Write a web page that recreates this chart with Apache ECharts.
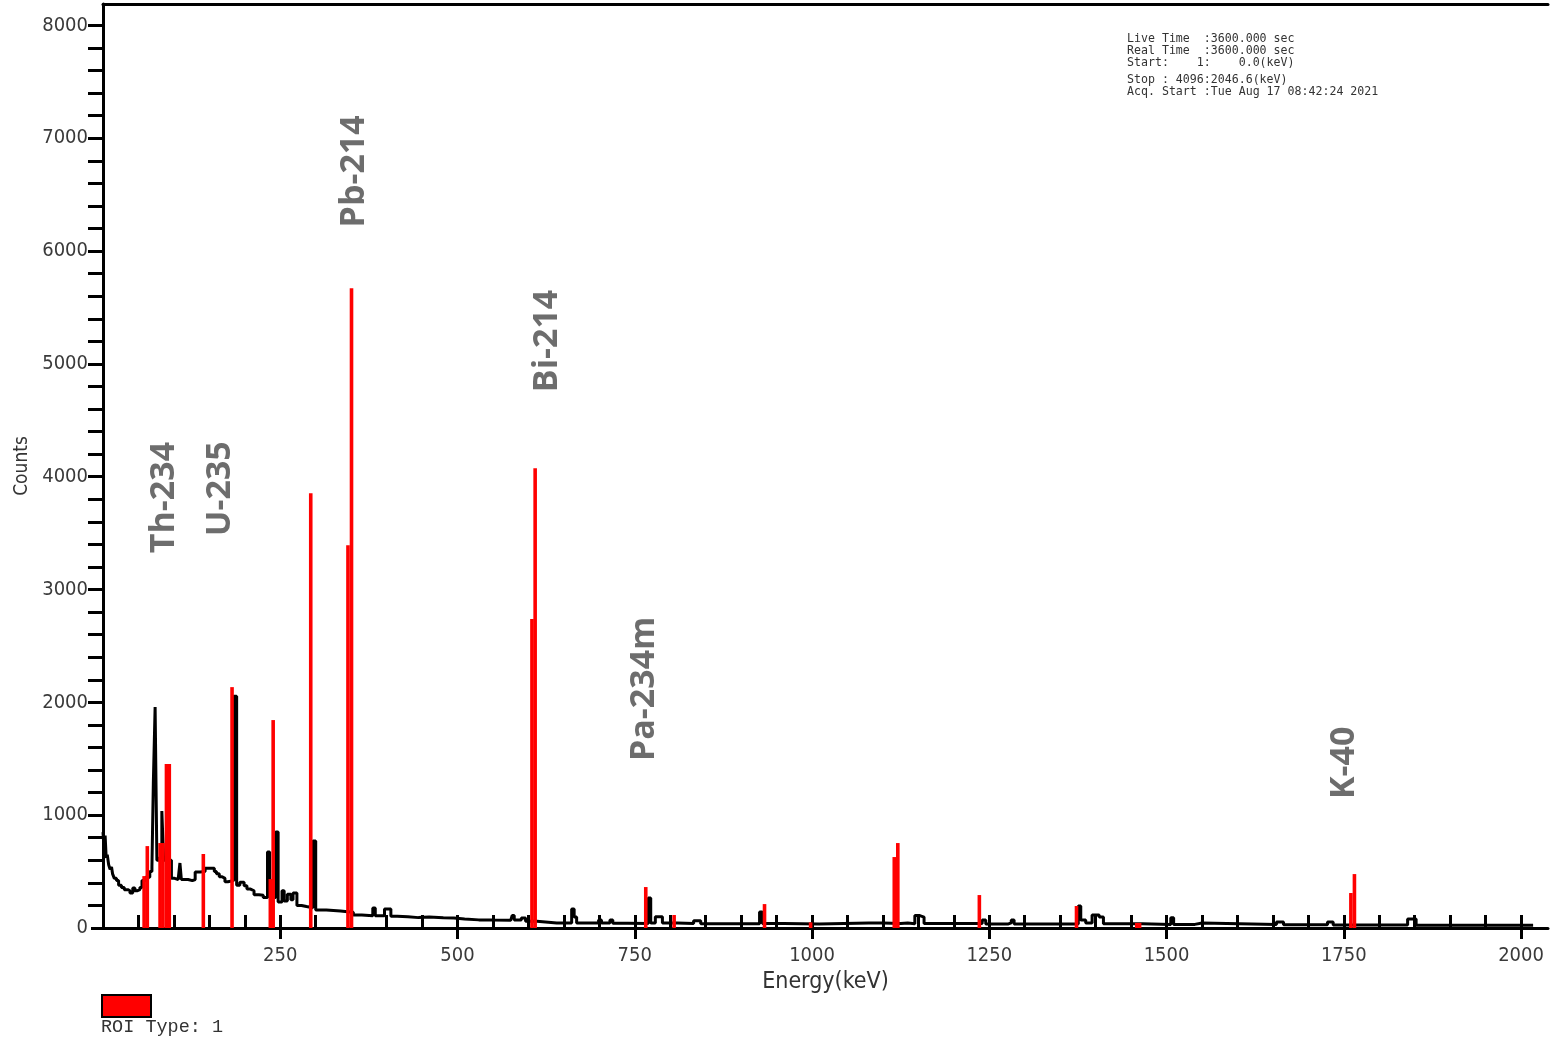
<!DOCTYPE html>
<html>
<head>
<meta charset="utf-8">
<script src="https://cdn.jsdelivr.net/npm/echarts@6/dist/echarts.min.js"></script>
<style>
  html, body { margin: 0; padding: 0; background: #fff; }
  #chart { width: 1550px; height: 1038px; }
</style>
</head>
<body>
<div id="chart"></div>
<script>
// gamma spectrum, energy in keV, counts per channel group
const energyMax = 2038
const countsMax = 8190

const xLabelTicks = [250, 500, 750, 1000, 1250, 1500, 1750, 2000]
const yLabelTicks = [0, 1000, 2000, 3000, 4000, 5000, 6000, 7000, 8000]
const xMinorStep = 50
const yMinorStep = 200

// black trace: [keV, counts], drawn as a step line
const trace = [
    [0, 850], [1.5, 700], [3, 820], [4.5, 620], [6, 650], [8, 560], [10, 520], [12, 540],
    [13.5, 480], [16, 440], [19, 420], [22, 380], [26, 360], [30, 340], [35, 330], [38, 310],
    [42, 355], [45, 330], [48, 340], [52, 360], [55, 420], [60, 450], [66, 500], [69, 540],
    [71, 1285], [73.5, 1958], [76, 600], [79, 620], [83, 1036], [85.5, 600], [90, 600],
    [96.5, 440], [101, 430], [106, 420], [108.5, 576], [110.5, 430], [114, 430], [120, 420],
    [126, 430], [130, 496], [137, 500], [144, 530], [150, 530], [157, 500], [160, 480],
    [164, 455], [168, 440], [172, 410], [176, 400], [178, 420], [184.3, 2055], [188.5, 380],
    [193, 405], [199, 375], [203, 345], [208, 330], [213, 295], [220, 290], [226, 270],
    [232, 673], [235, 270], [243.5, 850], [247, 230], [252.5, 330], [255.5, 240], [260, 300],
    [265, 250], [268, 310], [273.5, 200], [280, 190], [287, 180], [296, 771], [300, 160],
    [315, 155], [325, 150], [335, 145], [345, 140], [353, 115], [365, 108], [380.5, 177],
    [384, 108], [397, 168], [406, 105], [415, 100], [430, 92], [445, 98], [460, 90], [480, 88],
    [495, 80], [510, 72], [530, 70], [550, 68], [575, 72], [577, 110], [580, 70], [590, 88],
    [596, 60], [612, 45], [640, 44], [661, 168], [664.5, 97], [668, 45], [699, 71], [703, 45],
    [715, 71], [719, 42], [740, 40], [769, 266], [772.5, 45], [779, 100], [789, 45], [810, 40],
    [833, 65], [843, 38], [880, 38], [926, 142], [930, 40], [960, 36], [1010, 44], [1080, 44],
    [1100, 40], [1125, 44], [1135, 38], [1145, 110], [1152, 97], [1158, 40], [1230, 40],
    [1240, 71], [1245, 36], [1277, 45], [1281, 71], [1285, 36], [1370, 36], [1375.5, 195],
    [1379, 71], [1386, 44], [1395, 115], [1405, 97], [1411, 38], [1450, 38], [1466, 32],
    [1506, 90], [1510, 32], [1540, 44], [1550, 30], [1655, 53], [1665, 28], [1727, 53],
    [1735, 26], [1840, 80], [1852, 24], [2017, 22]
]

// ROI channels (red)
const roi = [
    [58, 460], [62.5, 726], [80.5, 753], [84.5, 753], [89.5, 1453], [93.5, 1453], [141.5, 656],
    [182, 2135], [236, 434], [240, 1843], [293, 3854], [345.5, 3393], [350.5, 5670],
    [605, 2738], [609.5, 4075], [765.5, 363], [805.5, 115], [933, 212], [998, 50],
    [1116, 629], [1121, 753], [1236, 292], [1373, 195], [1458, 45], [1462, 45],
    [1760, 310], [1765, 478]
]

// nuclide names, anchored at [keV, counts] (bottom of the rotated text)
const nuclides = ['Th-234', 'U-235', 'Pb-214', 'Bi-214', 'Pa-234m', 'K-40']
const nuclidePos = [[87, 3322], [166, 3473], [354, 6210], [626, 4749], [764, 1480], [1751, 1143]]

const infoLines = [
    'Live Time  :3600.000 sec',
    'Real Time  :3600.000 sec',
    'Start:    1:    0.0(keV)',
    'Stop : 4096:2046.6(keV)',
    'Acq. Start :Tue Aug 17 08:42:24 2021'
]
const infoTops = [33, 45, 57, 74, 86]

const axisFont = 'DejaVu Sans Condensed'

let range = (step, max) => {
    const out = []
    for (let v = 0; v <= max; v += step) out.push(v)
    return out
}

let myCharts = null

let initData = () => {
    myCharts = echarts.init(document.getElementById('chart'))
    const option = {
        animation: false,
        grid: {
            left: 103,
            right: 2,
            top: 4,
            bottom: 110
        },
        xAxis: [{
            // major ticks (outside) and labels
            type: 'value',
            min: 0,
            max: energyMax,
            position: 'bottom',
            name: 'Energy(keV)',
            nameLocation: 'middle',
            nameGap: 37,
            nameTextStyle: {
                fontFamily: axisFont,
                fontSize: 23,
                color: '#333'
            },
            axisLine: {
                show: true,
                lineStyle: { color: '#000', width: 3 }
            },
            axisTick: {
                show: true,
                length: 11,
                customValues: xLabelTicks,
                lineStyle: { color: '#000', width: 3 }
            },
            axisLabel: {
                customValues: xLabelTicks,
                formatter: v => String(v),
                fontFamily: axisFont,
                fontSize: 20,
                color: '#3a3a3a',
                margin: 18
            },
            splitLine: { show: false }
        }, {
            // minor ticks pointing into the plot
            type: 'value',
            min: 0,
            max: energyMax,
            position: 'bottom',
            axisLine: { show: false },
            axisTick: {
                show: true,
                inside: true,
                length: 13,
                customValues: range(xMinorStep, 2000).filter(v => v > 0),
                lineStyle: { color: '#000', width: 3 }
            },
            axisLabel: { show: false },
            splitLine: { show: false }
        }, {
            // top frame line
            type: 'value',
            min: 0,
            max: energyMax,
            position: 'top',
            axisLine: {
                show: true,
                lineStyle: { color: '#000', width: 3 }
            },
            axisTick: { show: false },
            axisLabel: { show: false },
            splitLine: { show: false }
        }],
        yAxis: [{
            type: 'value',
            min: 0,
            max: countsMax,
            name: 'Counts',
            nameLocation: 'middle',
            nameGap: 68,
            nameTextStyle: {
                fontFamily: axisFont,
                fontSize: 19,
                color: '#333'
            },
            axisLine: {
                show: true,
                lineStyle: { color: '#000', width: 3 }
            },
            axisTick: {
                show: true,
                length: 12,
                customValues: yLabelTicks,
                lineStyle: { color: '#000', width: 3 }
            },
            axisLabel: {
                customValues: yLabelTicks,
                formatter: v => String(v),
                fontFamily: axisFont,
                fontSize: 20,
                color: '#3a3a3a',
                margin: 15
            },
            splitLine: { show: false }
        }, {
            type: 'value',
            min: 0,
            max: countsMax,
            axisLine: { show: false },
            axisTick: {
                show: true,
                inside: true,
                length: 15,
                customValues: range(yMinorStep, 8000).filter(v => v > 0),
                lineStyle: { color: '#000', width: 3 }
            },
            axisLabel: { show: false },
            splitLine: { show: false }
        }],
        series: [{
            name: 'Spectrum',
            type: 'line',
            step: 'end',
            data: trace,
            symbol: 'none',
            z: 2,
            lineStyle: {
                color: '#000',
                width: 3
            }
        }, {
            name: 'ROI',
            type: 'bar',
            data: roi,
            barWidth: 3.6,
            z: 3,
            itemStyle: {
                color: '#ff0000'
            }
        }, {
            name: 'Nuclides',
            type: 'scatter',
            symbolSize: 0,
            z: 5,
            data: nuclides.map((n, i) => ({ name: n, value: nuclidePos[i] })),
            label: {
                show: true,
                position: 'inside',
                rotate: 90,
                align: 'left',
                verticalAlign: 'middle',
                formatter: p => p.name,
                fontFamily: 'Open Sans',
                fontWeight: 'bold',
                fontSize: 34,
                color: '#484848'
            }
        }],
        graphic: [
            ...infoLines.map((t, i) => ({
                type: 'text',
                left: 1127,
                top: infoTops[i],
                style: {
                    text: t,
                    font: '11.6px "DejaVu Sans Mono"',
                    fill: '#333'
                }
            })),
            {
                // ROI legend swatch
                type: 'rect',
                left: 101,
                top: 994,
                shape: { width: 49, height: 22 },
                style: {
                    fill: '#ff0000',
                    stroke: '#000',
                    lineWidth: 2
                }
            },
            {
                type: 'text',
                left: 101,
                top: 1018,
                style: {
                    text: 'ROI Type: 1',
                    font: '18.5px "Liberation Mono"',
                    fill: '#333'
                }
            }
        ]
    }
    myCharts.setOption(option)
}

initData()
</script>
</body>
</html>
